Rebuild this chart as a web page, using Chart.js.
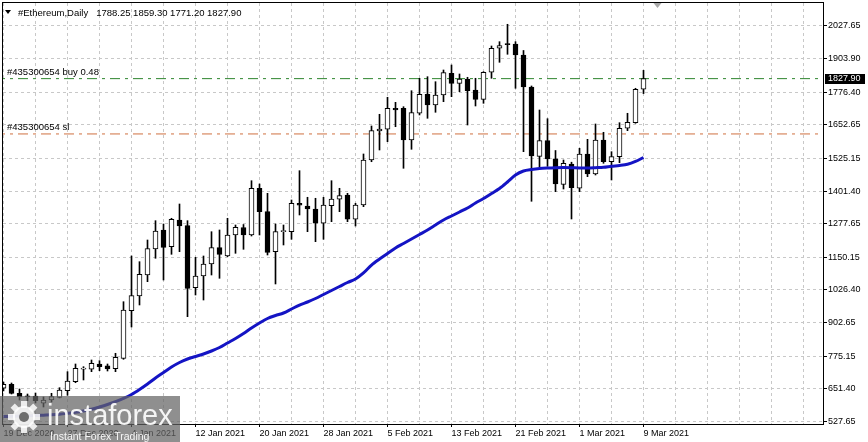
<!DOCTYPE html>
<html><head><meta charset="utf-8">
<script src="https://cdn.jsdelivr.net/npm/chart.js@4"></script>
<style>html,body{margin:0;padding:0;background:#fff;overflow:hidden}canvas{display:block}</style>
</head><body>
<canvas id="c" width="868" height="442"></canvas>
<script>
const symbolTitle = '#Ethereum,Daily';
const xTickLabels = ['19 Dec 2020','27 Dec 2020','4 Jan 2021','12 Jan 2021','20 Jan 2021','28 Jan 2021','5 Feb 2021','13 Feb 2021','21 Feb 2021','1 Mar 2021','9 Mar 2021'];
const opens = [652.9,668.0,633.9,621.8,623.7,596.0,608.5,618.7,643.8,677.9,
725.4,725.0,745.1,738.6,727.2,766.7,947.3,1003.1,1082.8,1181.5,
1253.6,1190.2,1291.5,1269.9,1034.6,1079.0,1124.5,1186.4,1154.9,1234.6,
1263.1,1234.6,1411.8,1323.0,1171.2,1247.1,1247.1,1354.9,1344.6,1333.2,
1279.0,1345.8,1370.1,1386.4,1294.2,1348.4,1519.2,1629.2,1635.7,1715.4,
1715.4,1595.1,1696.4,1768.5,1727.9,1765.9,1848.2,1810.2,1826.6,1784.8,
1749.5,1852.0,1943.1,1959.4,1959.4,1917.6,1796.2,1533.2,1592.4,1523.7,
1426.2,1504.0,1411.8,1542.0,1466.1,1595.1,1512.7,1531.7,1639.5,1660.7,1788.25];
const highs = [676.8,673.0,650.2,631.2,635.0,619.9,633.9,655.2,715.9,745.1,
734.9,760.3,757.6,745.1,785.7,981.5,1154.9,1133.3,1215.6,1288.9,
1276.3,1298.0,1352.2,1288.9,1150.0,1154.9,1247.1,1253.6,1298.0,1272.5,
1274.4,1440.6,1428.1,1392.8,1276.3,1272.5,1367.4,1478.6,1377.7,1373.9,
1377.7,1440.6,1411.8,1392.8,1354.9,1542.0,1648.2,1692.6,1757.1,1738.1,
1721.4,1782.1,1829.2,1835.3,1816.3,1860.7,1879.7,1845.5,1833.0,1829.2,
1854.2,1951.8,1968.1,2034.1,1968.1,1934.7,1800.0,1708.9,1675.9,1555.2,
1519.2,1510.8,1563.6,1597.7,1655.8,1624.3,1550.7,1660.7,1696.4,1791.3,1859.30];
const lows = [642.6,631.2,608.5,605.8,597.1,581.9,600.9,616.1,626.3,674.1,
684.4,715.9,719.7,718.5,715.9,762.9,885.5,969.0,1057.4,1146.2,
1063.8,1161.3,1171.2,924.6,1006.9,987.9,1082.8,1070.3,1152.3,1165.1,
1180.3,1230.8,1234.6,1158.7,1048.7,1196.7,1218.3,1310.5,1247.1,1209.2,
1218.3,1285.1,1323.0,1285.1,1268.7,1342.0,1512.7,1557.1,1588.6,1645.5,
1487.7,1559.8,1690.0,1677.4,1700.2,1740.4,1759.4,1778.3,1652.0,1724.1,
1734.3,1829.2,1889.9,1920.3,1791.3,1550.7,1362.5,1493.8,1495.3,1398.9,
1409.1,1295.3,1398.9,1455.8,1462.3,1506.7,1443.3,1509.0,1630.4,1658.5,1771.20];
const closes = [668.0,633.9,621.0,620.2,605.8,608.5,621.0,646.4,680.6,728.8,
729.2,747.7,734.9,726.1,770.5,950.0,1004.3,1085.5,1182.6,1249.8,
1187.9,1294.2,1268.7,1032.3,1079.0,1124.5,1186.4,1161.3,1234.6,1263.8,
1234.6,1411.8,1323.0,1168.9,1247.1,1250.9,1354.9,1347.3,1333.2,1279.0,
1348.4,1371.2,1383.7,1294.2,1348.4,1519.2,1630.4,1636.8,1715.4,1708.9,
1595.1,1698.7,1768.5,1727.9,1765.9,1850.5,1810.2,1826.6,1782.1,1749.5,
1852.0,1943.1,1952.9,1957.1,1917.6,1796.2,1534.4,1592.4,1523.7,1428.1,
1506.7,1413.7,1542.0,1466.1,1595.1,1512.7,1531.7,1639.5,1662.3,1787.5,1827.90];
const maValues = [545.9,546.6,547.8,548.5,549.3,550.8,552.3,554.6,558.0,561.8,
566.7,573.2,581.9,591.4,602.0,614.2,629.3,648.3,669.2,692.0,
712.8,733.7,750.8,764.1,773.5,783.0,794.4,807.7,824.8,841.8,
860.8,881.7,900.7,917.7,929.1,938.6,953.8,968.9,980.3,993.6,
1008.8,1024.0,1039.2,1054.3,1067.6,1090.4,1120.7,1143.5,1164.4,1185.3,
1202.3,1219.4,1236.5,1253.6,1272.5,1291.5,1306.7,1321.9,1337.0,1356.0,
1373.1,1392.1,1411.0,1435.7,1462.3,1477.4,1483.1,1486.9,1488.8,1490.0,
1490.7,1490.0,1488.8,1488.8,1490.0,1491.5,1495.3,1498.3,1502.8,1513.5,1528.7];
const yTicks = [527.65,651.40,775.15,902.65,1026.40,1150.15,1277.65,1401.40,1525.15,1652.65,1776.40,1903.90,2027.65];
const buyLevel = 1827.9, buyLabel = '#435300654 buy 0.48';
const slLevel = 1618.0, slLabel = '#435300654 sl';

const FONT = '"Liberation Sans", Arial, sans-serif';
Chart.defaults.font.family = FONT;
Chart.defaults.font.size = 9;
Chart.defaults.color = '#000';

const N = closes.length;
const idx = closes.map((_, i) => i);
const labelStep = 8, gridStep = 4;
const xMin = -0.0625, xMax = 102.4375, yMin = 517.4, yMax = 2114.9;
const gridIdx = [];
for (let v = 0; v <= xMax; v += gridStep) gridIdx.push(v);

const wickData = idx.map(i => ({x: i, y: [lows[i], highs[i]]}));
const bodyData = idx.map(i => ({x: i, y: [opens[i], closes[i]]}));
const bodyFill = idx.map(i => closes[i] >= opens[i] ? '#ffffff' : '#000000');

const overlay = {
  id: 'overlay',
  afterDraw(chart) {
    const {ctx, chartArea: a, scales: {x, y}} = chart;
    ctx.save();
    ctx.strokeStyle = '#000'; ctx.lineWidth = 1;
    ctx.strokeRect(a.left - 0.5, a.top - 0.5, a.right - a.left + 1, a.bottom - a.top + 1);
    const sx = x.getPixelForValue(N + 0.75);
    ctx.fillStyle = '#a8a8a8';
    ctx.beginPath(); ctx.moveTo(sx - 4, a.top); ctx.lineTo(sx + 4, a.top); ctx.lineTo(sx, a.top + 5); ctx.closePath(); ctx.fill();
    ctx.fillStyle = '#000';
    ctx.beginPath(); ctx.moveTo(5, 10); ctx.lineTo(11, 10); ctx.lineTo(8, 14); ctx.closePath(); ctx.fill();
    ctx.font = '9.5px ' + FONT;
    ctx.textBaseline = 'alphabetic';
    const last = N - 1;
    ctx.fillText(symbolTitle + '   ' + [opens[last], highs[last], lows[last], closes[last]].map(v => v.toFixed(2)).join(' '), 18, 15.5);
    ctx.fillText(buyLabel, 7, y.getPixelForValue(buyLevel) - 3.5);
    ctx.fillText(slLabel, 7, y.getPixelForValue(slLevel) - 3.5);
    const py = y.getPixelForValue(closes[last]);
    ctx.fillStyle = '#000';
    ctx.fillRect(a.right + 2, Math.round(py) - 5, 40, 10);
    ctx.fillStyle = '#fff';
    ctx.font = '9px ' + FONT;
    ctx.textBaseline = 'middle';
    ctx.fillText(closes[last].toFixed(2), a.right + 5, py);
    ctx.fillStyle = 'rgba(100,100,100,0.72)';
    ctx.fillRect(0, 396, 180, 46);
    const cx = 24, cy = 417;
    ctx.fillStyle = 'rgba(255,255,255,0.85)';
    for (let k = 0; k < 8; k++) {
      ctx.save(); ctx.translate(cx, cy); ctx.rotate(k * Math.PI / 4);
      ctx.fillRect(-3, -16, 6, 7); ctx.restore();
    }
    ctx.beginPath(); ctx.arc(cx, cy, 11, 0, Math.PI * 2); ctx.fill();
    ctx.fillStyle = 'rgb(110,110,110)';
    ctx.beginPath(); ctx.arc(cx, cy, 5, 0, Math.PI * 2); ctx.fill();
    ctx.fillStyle = 'rgba(255,255,255,0.92)';
    ctx.textBaseline = 'alphabetic';
    ctx.font = '29px ' + FONT;
    ctx.fillText('instaforex', 47, 425);
    ctx.font = '10.5px ' + FONT;
    ctx.fillText('Instant Forex Trading', 50, 440);
    ctx.restore();
  }
};

new Chart(document.getElementById('c'), {
  type: 'bar',
  data: {
    datasets: [
      {type: 'line', label: 'MA', data: idx.map(i => ({x: i, y: maValues[i]})), borderColor: '#1414c4', borderWidth: 3, pointRadius: 0, tension: 0.3, order: 0},
      {type: 'bar', label: 'body', data: bodyData, backgroundColor: bodyFill, borderColor: '#000', borderWidth: 1, borderSkipped: false, barThickness: 5, minBarLength: 1, grouped: false, clip: 0, order: 1},
      {type: 'bar', label: 'wick', data: wickData, backgroundColor: '#000', borderWidth: 0, barThickness: 1, grouped: false, clip: 0, order: 2},
      {type: 'line', label: 'buy', data: [{x: xMin - 1, y: buyLevel}, {x: xMax + 1, y: buyLevel}], borderColor: '#2e852e', borderWidth: 1, borderDash: [10, 5, 3, 5], pointRadius: 0, order: 3},
      {type: 'line', label: 'sl', data: [{x: xMin - 1, y: slLevel}, {x: xMax + 1, y: slLevel}], borderColor: '#cf7040', borderWidth: 1, borderDash: [10, 5, 3, 5], pointRadius: 0, order: 3}
    ]
  },
  options: {
    responsive: false, animation: false, devicePixelRatio: 1, events: [],
    layout: {padding: {left: 3, top: 3, right: 0, bottom: 0}},
    plugins: {legend: {display: false}, tooltip: {enabled: false}},
    scales: {
      x: {
        type: 'linear', min: xMin, max: xMax, offset: false, bounds: 'data',
        afterBuildTicks: s => { s.ticks = gridIdx.map(v => ({value: v})); },
        afterFit: s => { s.height = 18; s.paddingLeft = 0; s.paddingRight = 0; },
        grid: {offset: false, color: '#c8c8c8', lineWidth: 1, tickLength: 3,
          tickColor: c => (c.tick && c.tick.value % labelStep === 0 && c.tick.value < N) ? '#000' : 'rgba(0,0,0,0)'},
        border: {display: true, color: '#000', width: 1, dash: [3, 3]},
        ticks: {autoSkip: false, maxRotation: 0, align: 'start', padding: 1, color: '#000',
          font: {size: 9, family: FONT},
          callback: v => (v % labelStep === 0 && v < N) ? xTickLabels[v / labelStep] : ''}
      },
      y: {
        type: 'linear', position: 'right', min: yMin, max: yMax, bounds: 'data',
        afterBuildTicks: s => { s.ticks = yTicks.map(v => ({value: v})); },
        afterFit: s => { s.width = 45; s.paddingTop = 0; s.paddingBottom = 0; },
        grid: {color: '#c8c8c8', lineWidth: 1, tickLength: 4, tickColor: '#000'},
        border: {display: true, color: '#000', width: 1, dash: [3, 3]},
        ticks: {padding: 1, color: '#000', font: {size: 9, family: FONT}, callback: v => Number(v).toFixed(2)}
      }
    }
  },
  plugins: [overlay]
});
</script>
</body></html>
